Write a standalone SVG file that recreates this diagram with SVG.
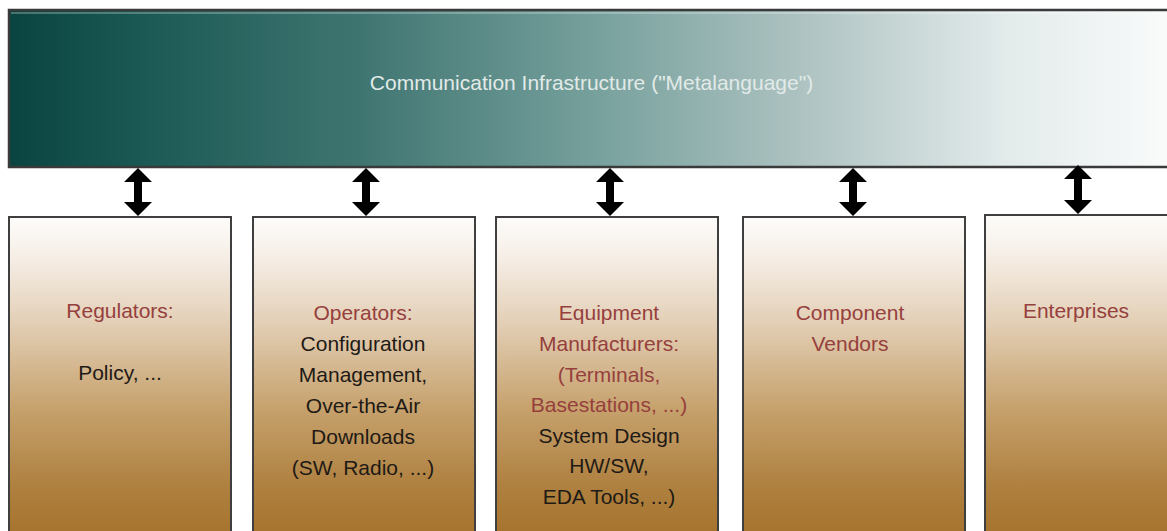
<svg xmlns="http://www.w3.org/2000/svg" width="1167" height="531" viewBox="0 0 1167 531">
<defs>
<linearGradient id="barGrad" x1="0" y1="0" x2="1" y2="0">
<stop offset="0" stop-color="#0a4440"/>
<stop offset="0.12" stop-color="#1c5a55"/>
<stop offset="0.3" stop-color="#3f7571"/>
<stop offset="0.5" stop-color="#76a09c"/>
<stop offset="0.68" stop-color="#aec3c2"/>
<stop offset="0.85" stop-color="#e2eaea"/>
<stop offset="1" stop-color="#fbfcfc"/>
</linearGradient>
<linearGradient id="boxGrad" x1="0" y1="0" x2="0" y2="1">
<stop offset="0" stop-color="#fdfcfa"/>
<stop offset="0.12" stop-color="#f6efe7"/>
<stop offset="0.33" stop-color="#e3cfb6"/>
<stop offset="0.6" stop-color="#c6a16c"/>
<stop offset="0.85" stop-color="#ae7f3e"/>
<stop offset="1" stop-color="#a6732d"/>
</linearGradient>
<style>
.box { fill: url(#boxGrad); stroke: #3f3f3f; stroke-width: 2; }
.t { font-family: "Liberation Sans", Arial, sans-serif; font-size: 21px; text-anchor: middle; }
.red { fill: #96403d; }
.blk { fill: #1e1a16; }
.arrow { fill: #000; }
</style>
</defs>
<rect width="1167" height="531" fill="#ffffff"/>
<g id="infrastructure">
<rect x="9" y="10" width="1170" height="157" fill="url(#barGrad)" stroke="#3a3a3a" stroke-width="2.5"/>
<line x1="11" y1="13" x2="1167" y2="13" stroke="#ffffff" stroke-opacity="0.25" stroke-width="2"/>
<text class="t" x="591.5" y="90" fill="#e2eae8">Communication Infrastructure ("Metalanguage")</text>
</g>
<g id="connectors">
<path class="arrow" d="M138,168 L152,182 L142,182 L142,202 L152,202 L138,216 L124,202 L134,202 L134,182 L124,182 Z"/>
<path class="arrow" d="M366,168 L380,182 L370,182 L370,202 L380,202 L366,216 L352,202 L362,202 L362,182 L352,182 Z"/>
<path class="arrow" d="M610,168 L624,182 L614,182 L614,202 L624,202 L610,216 L596,202 L606,202 L606,182 L596,182 Z"/>
<path class="arrow" d="M853,168 L867,182 L857,182 L857,202 L867,202 L853,216 L839,202 L849,202 L849,182 L839,182 Z"/>
<path class="arrow" d="M1078,165 L1092,179 L1082,179 L1082,200 L1092,200 L1078,214 L1064,200 L1074,200 L1074,179 L1064,179 Z"/>
</g>
<g id="regulators">
<rect class="box" x="9" y="217" width="222" height="320"/>
<text class="t red" x="120" y="318">Regulators:</text>
<text class="t blk" x="120" y="380">Policy, ...</text>
</g>
<g id="operators">
<rect class="box" x="253" y="217" width="222" height="320"/>
<text class="t red" x="363" y="320">Operators:</text>
<text class="t blk" x="363" y="351">Configuration</text>
<text class="t blk" x="363" y="382">Management,</text>
<text class="t blk" x="363" y="413">Over-the-Air</text>
<text class="t blk" x="363" y="444">Downloads</text>
<text class="t blk" x="363" y="475">(SW, Radio, ...)</text>
</g>
<g id="equipment">
<rect class="box" x="496" y="217" width="222" height="320"/>
<text class="t red" x="609" y="320">Equipment</text>
<text class="t red" x="609" y="351">Manufacturers:</text>
<text class="t red" x="609" y="382">(Terminals,</text>
<text class="t red" x="609" y="412">Basestations, ...)</text>
<text class="t blk" x="609" y="443">System Design</text>
<text class="t blk" x="609" y="473">HW/SW,</text>
<text class="t blk" x="609" y="504">EDA Tools, ...)</text>
</g>
<g id="vendors">
<rect class="box" x="743" y="217" width="222" height="320"/>
<text class="t red" x="850" y="320">Component</text>
<text class="t red" x="850" y="351">Vendors</text>
</g>
<g id="enterprises">
<rect class="box" x="985" y="215" width="200" height="322"/>
<text class="t red" x="1076" y="318">Enterprises</text>
</g>
</svg>
